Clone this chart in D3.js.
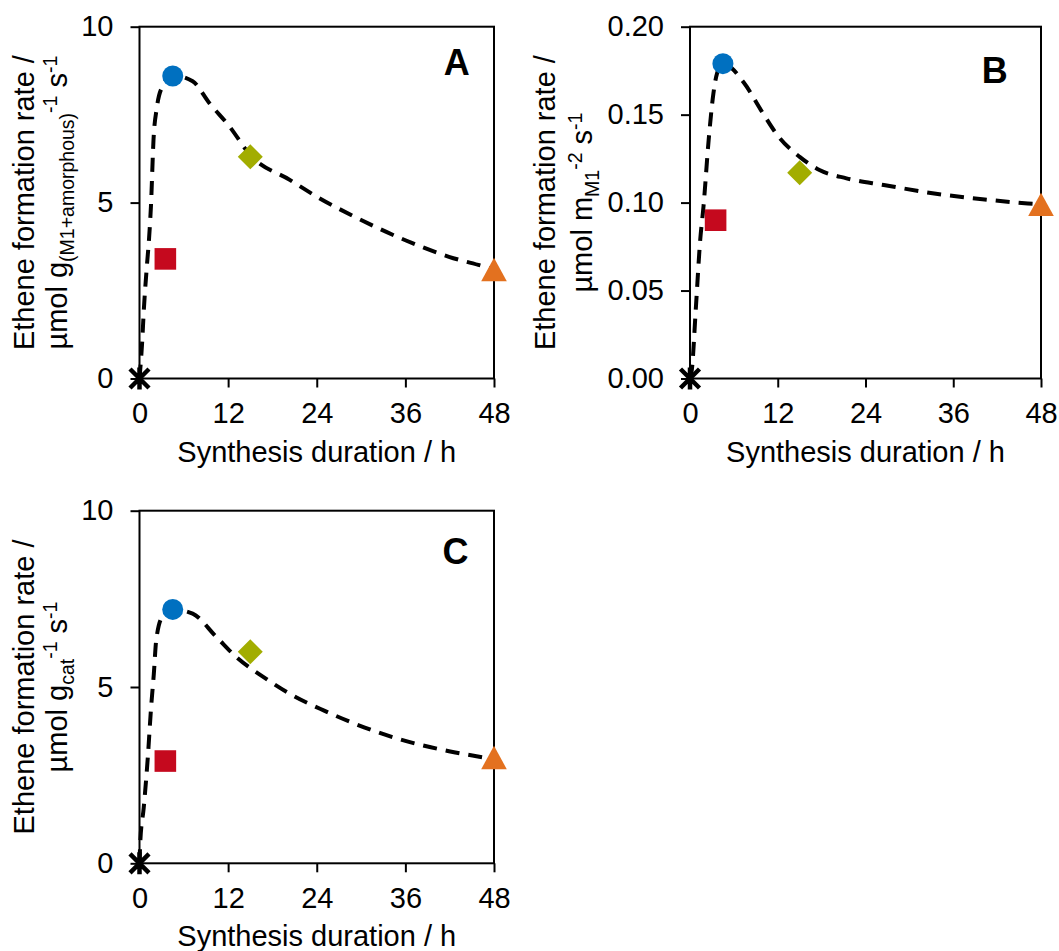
<!DOCTYPE html>
<html>
<head>
<meta charset="utf-8">
<script src="https://cdn.jsdelivr.net/npm/d3@7"></script>
<style>
  body { margin: 0; background: #fff; }
  text { font-family: Arial, "Liberation Sans", sans-serif; fill: #000; }
</style>
</head>
<body>
<svg id="chart"></svg>
<script>
// measured points (hours, rate)
var durations = [0, 3.5, 4.5, 15, 48];
var markerKinds = ['star', 'square', 'circle', 'diamond', 'triangle'];
var markerColors = ['#000000', '#c5091e', '#0070c0', '#a2ad00', '#e3711f'];

var rateA = [0, 3.4, 8.6, 6.3, 3.1];
var rateB = [0, 0.090, 0.179, 0.117, 0.099];
var rateC = [0, 2.9, 7.2, 6.0, 3.0];

// dashed guide curves
var fitHoursA = [0, 0.35, 0.6, 1.0, 1.3, 1.55, 1.9, 2.35, 3.1, 4.5, 7.2, 9.5, 12.2, 15, 20.4, 24, 29.1, 36, 41.9, 46.9, 48];
var fitA      = [0, 1.0, 2.0, 3.2, 4.0, 4.9, 6.8, 7.7, 8.3, 8.62, 8.45, 7.82, 7.16, 6.35, 5.64, 5.17, 4.6, 3.93, 3.46, 3.17, 3.1];
var fitHoursB = [0, 0.25, 0.8, 1.4, 1.85, 2.55, 3.2, 3.7, 4.5, 7.4, 9.7, 12.2, 15, 17.7, 21.4, 26.5, 33.4, 40.3, 46.2, 48];
var fitB      = [0, 0.005, 0.04, 0.079, 0.098, 0.1355, 0.162, 0.1735, 0.179, 0.168, 0.1526, 0.137, 0.126, 0.1185, 0.1138, 0.11, 0.1052, 0.1018, 0.0995, 0.099];
var fitHoursC = [0, 0.11, 0.57, 1.12, 1.57, 1.94, 2.26, 3.08, 4.5, 7.2, 10.4, 13.1, 16.8, 20.4, 25, 30.5, 36, 41.9, 46.9, 48];
var fitC      = [0, 0.62, 1.57, 2.99, 4.42, 5.37, 6.32, 6.99, 7.2, 7.08, 6.42, 5.85, 5.28, 4.8, 4.33, 3.85, 3.47, 3.18, 2.99, 2.95];

var xTicks = [0, 12, 24, 36, 48];
var yTicksAC = [0, 5, 10];
var yTicksB = [0, 0.05, 0.10, 0.15, 0.20];

var svg = d3.select('#chart').attr('width', 1059).attr('height', 951);

function markerPath(kind, cx, cy) {
    var p = d3.path();
    if (kind === 'circle') {
        p.arc(cx, cy, 10.5, 0, 2 * Math.PI);
    } else if (kind === 'square') {
        p.rect(cx - 10.8, cy - 10.8, 21.6, 21.6);
    } else if (kind === 'diamond') {
        p.moveTo(cx, cy - 12.5); p.lineTo(cx + 12.5, cy); p.lineTo(cx, cy + 12.5); p.lineTo(cx - 12.5, cy); p.closePath();
    } else if (kind === 'triangle') {
        p.moveTo(cx, cy - 11.7); p.lineTo(cx + 12.8, cy + 11.7); p.lineTo(cx - 12.8, cy + 11.7); p.closePath();
    } else {
        p.moveTo(cx - 9.5, cy - 9.5); p.lineTo(cx + 9.5, cy + 9.5);
        p.moveTo(cx + 9.5, cy - 9.5); p.lineTo(cx - 9.5, cy + 9.5);
        p.moveTo(cx, cy - 11); p.lineTo(cx, cy + 11);
    }
    return p.toString();
}

function drawPanel(opt) {
    var g = svg.append('g');
    var x = d3.scaleLinear().domain([0, 48]).range([opt.left, opt.right]);
    var y = d3.scaleLinear().domain(opt.yDomain).range([opt.bottom, opt.top]);

    // x axis
    var xa = g.append('g')
        .attr('transform', 'translate(0,' + opt.bottom + ')')
        .call(d3.axisBottom(x).tickValues(xTicks).tickSize(9).tickSizeOuter(0).tickPadding(15));
    xa.select('.domain').remove();
    xa.selectAll('line').attr('stroke', '#000').attr('stroke-width', 2);
    xa.selectAll('text').attr('font-size', 29).attr('dy', '0.71em').attr('fill', '#000')
        .attr('font-family', 'Arial, "Liberation Sans", sans-serif');

    // y axis
    var ya = g.append('g')
        .attr('transform', 'translate(' + opt.left + ',0)')
        .call(d3.axisLeft(y).tickValues(opt.yTicks).tickFormat(d3.format(opt.yFormat)).tickSize(9).tickSizeOuter(0).tickPadding(17));
    ya.select('.domain').remove();
    ya.selectAll('line').attr('stroke', '#000').attr('stroke-width', 2);
    ya.selectAll('text').attr('font-size', 29).attr('fill', '#000')
        .attr('font-family', 'Arial, "Liberation Sans", sans-serif');

    // plot frame
    g.append('rect')
        .attr('x', opt.left).attr('y', opt.top)
        .attr('width', opt.right - opt.left).attr('height', opt.bottom - opt.top)
        .attr('fill', 'none').attr('stroke', '#000').attr('stroke-width', 2);

    // dashed curve
    var line = d3.line()
        .x(function(d) { return x(d[0]); })
        .y(function(d) { return y(d[1]); })
        .curve(d3.curveMonotoneX);
    g.append('path')
        .datum(d3.zip(opt.fitHours, opt.fit))
        .attr('d', line)
        .attr('fill', 'none').attr('stroke', '#000')
        .attr('stroke-width', 4).attr('stroke-dasharray', '14,9');

    // markers
    g.selectAll('path.marker')
        .data(d3.zip(durations, opt.rates, markerKinds, markerColors))
        .enter().append('path')
        .attr('class', 'marker')
        .attr('d', function(d) { return markerPath(d[2], x(d[0]), y(d[1])); })
        .attr('fill', function(d) { return d[2] === 'star' ? 'none' : d[3]; })
        .attr('stroke', function(d) { return d[2] === 'star' ? '#000' : 'none'; })
        .attr('stroke-width', 4.5);

    // panel letter
    g.append('text')
        .attr('x', opt.right - opt.letterDx).attr('y', opt.top + opt.letterDy)
        .attr('text-anchor', 'middle').attr('font-size', 36).attr('font-weight', 'bold')
        .text(opt.letter);

    // x title
    g.append('text')
        .attr('x', (opt.left + opt.right) / 2).attr('y', opt.bottom + 83)
        .attr('text-anchor', 'middle').attr('font-size', 29)
        .text('Synthesis duration / h');

    // y title, two lines
    var cy = (opt.top + opt.bottom) / 2;
    g.append('text')
        .attr('transform', 'translate(' + (opt.left - opt.title1) + ',' + cy + ') rotate(-90)')
        .attr('text-anchor', 'middle').attr('font-size', 29)
        .text('Ethene formation rate /');
    var t2 = g.append('text')
        .attr('transform', 'translate(' + (opt.left - opt.title2) + ',' + cy + ') rotate(-90)')
        .attr('text-anchor', 'middle').attr('font-size', 29);
    var shift = 0;
    opt.unitParts.forEach(function(part) {
        var target = part[1] === 'sub' ? 7 : part[1] === 'sup' ? -10 : 0;
        t2.append('tspan')
            .attr('dy', target - shift)
            .attr('font-size', part[1] ? 19.5 : 29)
            .text(part[0]);
        shift = target;
    });
}

drawPanel({
    letter: 'A', left: 139.5, right: 494, top: 26.7, bottom: 378.5,
    letterDx: 37.3, letterDy: 48.3,
    yDomain: [0, 10], yTicks: yTicksAC, yFormat: 'd',
    rates: rateA, fitHours: fitHoursA, fit: fitA,
    title1: 106, title2: 73,
    unitParts: [['µmol g', null], ['(M1+amorphous)', 'sub'], ['-1', 'sup'], [' s', null], ['-1', 'sup']]
});

drawPanel({
    letter: 'B', left: 690, right: 1041, top: 26.7, bottom: 378.5,
    letterDx: 46.3, letterDy: 56,
    yDomain: [0, 0.2], yTicks: yTicksB, yFormat: '.2f',
    rates: rateB, fitHours: fitHoursB, fit: fitB,
    title1: 135, title2: 98.5,
    unitParts: [['µmol m', null], ['M1', 'sub'], ['-2', 'sup'], [' s', null], ['-1', 'sup']]
});

drawPanel({
    letter: 'C', left: 139.5, right: 494, top: 510.7, bottom: 863.3,
    letterDx: 38.5, letterDy: 53.5,
    yDomain: [0, 10], yTicks: yTicksAC, yFormat: 'd',
    rates: rateC, fitHours: fitHoursC, fit: fitC,
    title1: 106, title2: 73,
    unitParts: [['µmol g', null], ['cat', 'sub'], ['-1', 'sup'], [' s', null], ['-1', 'sup']]
});
</script>
</body>
</html>
